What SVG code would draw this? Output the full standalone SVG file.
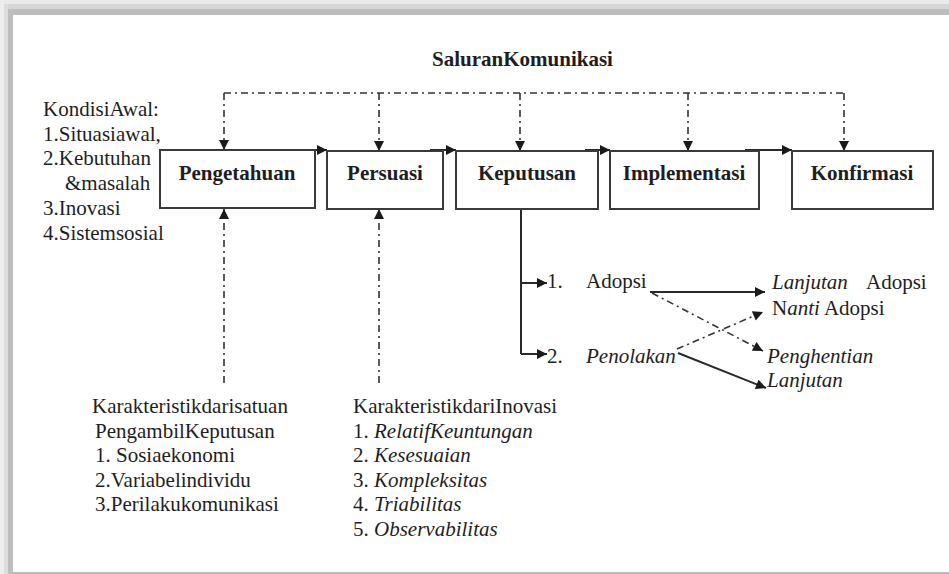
<svg xmlns="http://www.w3.org/2000/svg" width="949" height="574" viewBox="0 0 949 574">
<style>
  text { font-family: "Liberation Serif", "Times New Roman", serif; font-size: 21px; fill: #1e1e1e; }
  .b { font-weight: bold; }
  .lbl { font-weight: bold; text-anchor: middle; }
  .i { font-style: italic; }
  .box { fill: #ffffff; stroke: #3a3a3a; stroke-width: 2; }
  .dd { fill: none; stroke: #333; stroke-width: 1.6; stroke-dasharray: 7 4 2 4; }
  .sl { fill: none; stroke: #2a2a2a; stroke-width: 2; }
</style>
<defs>
  <marker id="ah" viewBox="0 0 10 10" refX="10" refY="5" markerWidth="11" markerHeight="10" markerUnits="userSpaceOnUse" orient="auto">
    <path d="M0,0 L10,5 L0,10 z" fill="#1a1a1a"/>
  </marker>
</defs>
<rect x="0" y="0" width="949" height="574" fill="#ffffff"/>
<g id="frame">
  <rect x="0" y="0" width="949" height="4" fill="#eaeaea"/>
  <rect x="0" y="4" width="949" height="5" fill="#d6d6d6"/>
  <rect x="0" y="9" width="949" height="6" fill="#bdbdbd"/>
  <rect x="0" y="0" width="4" height="574" fill="#ededed"/>
  <rect x="4" y="4" width="4" height="570" fill="#dcdcdc"/>
  <rect x="8" y="9" width="5" height="565" fill="#bebebe"/>
  <rect x="13" y="572" width="936" height="2" fill="#b8b8b8"/>
</g>
<g id="title"><text class="b" x="432" y="66">SaluranKomunikasi</text></g>
<g id="kondisi">
  <text x="43" y="116">KondisiAwal:</text>
  <text x="43" y="141">1.Situasiawal,</text>
  <text x="43" y="165">2.Kebutuhan</text>
  <text x="65" y="190">&amp;masalah</text>
  <text x="43" y="215">3.Inovasi</text>
  <text x="43" y="240">4.Sistemsosial</text>
</g>
<g id="connectors">
  <path class="dd" d="M224,93 H845"/>
  <line class="dd" x1="224" y1="93" x2="224" y2="150" marker-end="url(#ah)"/>
  <line class="dd" x1="379" y1="93" x2="379" y2="151" marker-end="url(#ah)"/>
  <line class="dd" x1="520" y1="93" x2="520" y2="151" marker-end="url(#ah)"/>
  <line class="dd" x1="688" y1="93" x2="688" y2="151" marker-end="url(#ah)"/>
  <line class="dd" x1="844" y1="93" x2="844" y2="151" marker-end="url(#ah)"/>
  <line class="sl" x1="300" y1="150" x2="327" y2="150" marker-end="url(#ah)"/>
  <line class="sl" x1="430" y1="150" x2="456" y2="150" marker-end="url(#ah)"/>
  <line class="sl" x1="585" y1="150" x2="610" y2="150" marker-end="url(#ah)"/>
  <line class="sl" x1="745" y1="150" x2="792" y2="150" marker-end="url(#ah)"/>
  <line class="dd" x1="224" y1="383" x2="224" y2="209" marker-end="url(#ah)"/>
  <line class="dd" x1="379" y1="383" x2="379" y2="209" marker-end="url(#ah)"/>
  <path class="sl" d="M521,208 V354"/>
  <line class="sl" x1="521" y1="283" x2="547" y2="283" marker-end="url(#ah)"/>
  <line class="sl" x1="521" y1="354" x2="547" y2="354" marker-end="url(#ah)"/>
  <line class="sl" x1="650" y1="292" x2="765" y2="292" marker-end="url(#ah)"/>
  <line class="dd" x1="652" y1="293" x2="763" y2="351" marker-end="url(#ah)"/>
  <line class="dd" x1="677" y1="349" x2="763" y2="312" marker-end="url(#ah)"/>
  <line class="sl" x1="678" y1="353" x2="766" y2="388" marker-end="url(#ah)"/>
</g>
<g id="pengetahuan"><rect class="box" x="160" y="150" width="155" height="58"/><text class="lbl" x="237" y="180">Pengetahuan</text></g>
<g id="persuasi"><rect class="box" x="327" y="151" width="116" height="58"/><text class="lbl" x="385" y="180">Persuasi</text></g>
<g id="keputusan"><rect class="box" x="456" y="151" width="142" height="58"/><text class="lbl" x="527" y="180">Keputusan</text></g>
<g id="implementasi"><rect class="box" x="610" y="151" width="149" height="58"/><text class="lbl" x="684" y="180">Implementasi</text></g>
<g id="konfirmasi"><rect class="box" x="792" y="151" width="141" height="58"/><text class="lbl" x="862" y="180">Konfirmasi</text></g>
<g id="adopsi"><text x="547" y="288">1.</text><text x="586" y="288">Adopsi</text></g>
<g id="penolakan"><text x="547" y="363">2.</text><text class="i" x="586" y="363">Penolakan</text></g>
<g id="lanjutan-adopsi"><text x="772" y="289"><tspan class="i">Lanjutan</tspan><tspan x="866">Adopsi</tspan></text></g>
<g id="nanti-adopsi"><text x="772" y="315">N<tspan class="i">anti</tspan> Adopsi</text></g>
<g id="penghentian"><text class="i" x="767" y="363">Penghentian</text></g>
<g id="lanjutan"><text class="i" x="767" y="387">Lanjutan</text></g>
<g id="karakteristik-satuan">
  <text x="92" y="413">Karakteristikdarisatuan</text>
  <text x="95" y="438">PengambilKeputusan</text>
  <text x="95" y="462">1. Sosiaekonomi</text>
  <text x="95" y="487">2.Variabelindividu</text>
  <text x="95" y="511">3.Perilakukomunikasi</text>
</g>
<g id="karakteristik-inovasi">
  <text x="353" y="413">KarakteristikdariInovasi</text>
  <text x="353" y="438">1. <tspan class="i">RelatifKeuntungan</tspan></text>
  <text x="353" y="462">2. <tspan class="i">Kesesuaian</tspan></text>
  <text x="353" y="487">3. <tspan class="i">Kompleksitas</tspan></text>
  <text x="353" y="511">4. <tspan class="i">Triabilitas</tspan></text>
  <text x="353" y="536">5. <tspan class="i">Observabilitas</tspan></text>
</g>
</svg>
